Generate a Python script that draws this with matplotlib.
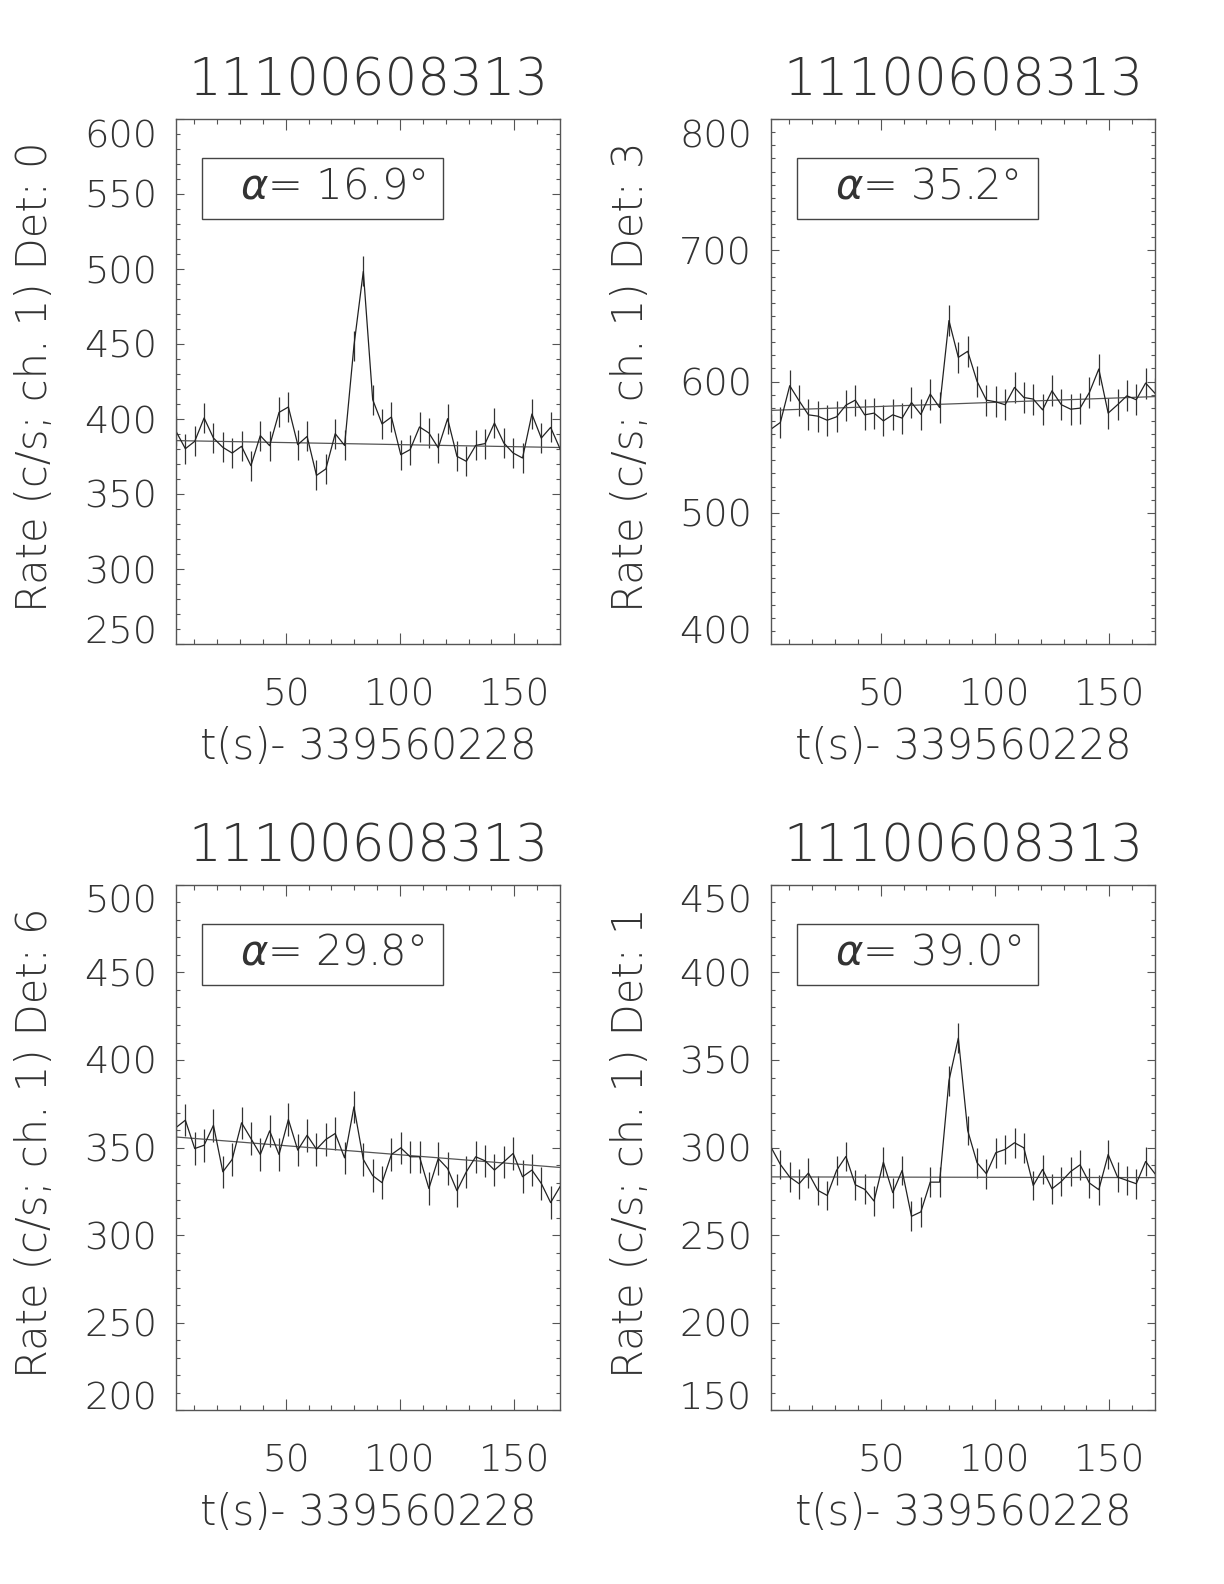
import matplotlib
matplotlib.use("Agg")
import matplotlib.pyplot as plt
from matplotlib.patches import Rectangle
from matplotlib.ticker import MultipleLocator

# ---------------- data ----------------
time_s = [2.048, 6.144, 10.240, 14.336, 18.432, 22.528, 26.624, 30.720, 34.816, 38.912,
          43.008, 47.104, 51.200, 55.296, 59.392, 63.488, 67.584, 71.680, 75.776, 79.872,
          83.968, 88.064, 92.160, 96.256, 100.352, 104.448, 108.544, 112.640, 116.736, 120.832,
          124.928, 129.024, 133.120, 137.216, 141.312, 145.408, 149.504, 153.600, 157.696, 161.792,
          165.888, 169.984]

rate_det0 = [391.8, 380.2, 385.1, 400.7, 387.3, 381.1, 377.3, 381.8, 368.9, 388.9,
             382.2, 404.4, 408.0, 382.9, 388.4, 362.4, 366.7, 390.2, 382.4, 448.9,
             498.4, 412.9, 396.7, 401.3, 376.2, 379.6, 394.7, 390.7, 380.7, 400.2,
             375.1, 371.8, 382.4, 383.6, 397.3, 384.0, 377.3, 374.0, 403.3, 387.3,
             394.4, 380.2]
rate_det3 = [563.7, 568.8, 596.8, 585.3, 574.6, 573.6, 570.5, 573.1, 582.0, 585.8,
             574.6, 575.9, 570.0, 574.6, 572.1, 584.0, 574.9, 590.4, 580.2, 646.4,
             618.4, 623.0, 600.1, 585.8, 584.5, 582.3, 595.5, 587.8, 586.6, 578.4,
             592.9, 582.3, 578.9, 579.7, 591.7, 609.5, 575.9, 582.3, 589.1, 586.1,
             598.8, 591.0]
rate_det6 = [361.4, 365.6, 349.4, 351.3, 362.7, 336.1, 343.2, 364.1, 355.1, 346.0,
             359.5, 346.0, 366.0, 348.5, 357.0, 349.0, 354.6, 358.0, 344.1, 373.2,
             343.2, 333.9, 329.9, 346.0, 349.8, 344.7, 344.7, 326.6, 343.7, 338.0,
             325.3, 336.1, 344.7, 342.4, 337.1, 341.8, 346.6, 333.3, 337.1, 329.5,
             318.5, 327.6]
rate_det1 = [300.2, 290.3, 283.1, 279.3, 285.4, 275.5, 272.6, 286.9, 294.9, 278.7,
             276.1, 269.4, 291.6, 274.2, 286.9, 260.7, 263.2, 280.2, 280.2, 338.2,
             362.5, 309.7, 291.3, 285.0, 297.0, 298.9, 302.7, 299.8, 278.3, 287.5,
             276.4, 280.6, 286.3, 290.1, 279.7, 275.9, 296.0, 283.1, 281.2, 279.3,
             292.0, 285.0]

err_det0 = 10.0
err_det3 = 11.8
err_det6 = 9.3
err_det1 = 8.5

fit_det0 = [385.6, 381.0]   # background fit at first / last time bin
fit_det3 = [578.0, 588.5]
fit_det6 = [356.0, 338.6]
fit_det1 = [283.2, 282.8]

detectors = ["0", "3", "6", "1"]
alpha_deg = ["16.9", "35.2", "29.8", "39.0"]
ylims = [(250, 600), (400, 800), (200, 500), (150, 450)]
ymajor = [50, 100, 50, 50]
title_text = "11100608313"
xlabel_text = "t(s)- 339560228"
xticks = [50, 100, 150]

rates = [rate_det0, rate_det3, rate_det6, rate_det1]
errs = [err_det0, err_det3, err_det6, err_det1]
fits = [fit_det0, fit_det3, fit_det6, fit_det1]

# ---------------- figure ----------------
plt.rcParams["font.family"] = ["DejaVu Sans"]
plt.rcParams["font.weight"] = 200
plt.rcParams["axes.titleweight"] = 200
plt.rcParams["axes.labelweight"] = 200
plt.rcParams["mathtext.fontset"] = "dejavusans"

W, H = 1224, 1584
fig = plt.figure(figsize=(W / 100, H / 100), dpi=100)

ax_w, ax_h = 384, 525
lefts = [176, 771, 176, 771]
tops = [119, 119, 885, 885]

line_col = "#222222"
axis_col = "#555555"
text_col = "#333333"

for k in range(4):
    ax = fig.add_axes([lefts[k] / W, 1 - (tops[k] + ax_h) / H, ax_w / W, ax_h / H])
    t = time_s
    y = rates[k]
    ax.errorbar(t, y, yerr=errs[k], fmt="-", color=line_col, lw=0.9,
                elinewidth=0.9, ecolor="#333333", capsize=0)
    ax.plot([t[0], t[-1]], fits[k], color="#555555", lw=0.9)

    ax.set_xlim(t[0], t[-1])
    ax.set_ylim(*ylims[k])
    ax.set_xticks(xticks)
    ax.xaxis.set_minor_locator(MultipleLocator(10))
    lo, hi = ylims[k]
    ax.set_yticks(list(range(lo, hi + 1, ymajor[k])))
    ax.yaxis.set_minor_locator(MultipleLocator(10))

    for s in ax.spines.values():
        s.set_color(axis_col)
        s.set_linewidth(1.0)

    ax.tick_params(axis="both", which="both", direction="in", top=True, right=True,
                   color=axis_col, width=0.8, labelcolor=text_col)
    ax.tick_params(axis="x", which="major", length=7.6, pad=24, labelsize=27)
    ax.tick_params(axis="x", which="minor", length=3.6)
    ax.tick_params(axis="y", which="major", length=5.6, pad=13.5, labelsize=27.5)
    ax.tick_params(axis="y", which="minor", length=2.8)

    yt = ax.yaxis.get_major_ticks()
    yt[0].label1.set_verticalalignment("baseline")
    yt[-1].label1.set_verticalalignment("top")

    ax.set_title(title_text, fontsize=37, pad=17, color=text_col, fontweight=200)

    ax.set_xlabel(xlabel_text, fontsize=30, color=text_col, fontweight=200)
    ax.xaxis.label.set_va("center")
    ax.xaxis.set_label_coords(0.5, -103 / ax_h)

    ax.set_ylabel("Rate (c/s; ch. 1) Det: " + detectors[k], fontsize=30, color=text_col,
                  fontweight=200)
    ax.yaxis.label.set_va("center")
    ax.yaxis.set_label_coords(-(141) / ax_w, 0.51)

    ax.add_patch(Rectangle((0.067, 0.81), 0.629, 0.116, transform=ax.transAxes,
                           fill=False, edgecolor="#444444", lw=1.0))
    ax.text(0.167, 0.872, r"$\alpha$= " + alpha_deg[k] + "°", transform=ax.transAxes,
            fontsize=30, ha="left", va="center", color=text_col, fontweight=200)

fig.savefig("out.png", dpi=100)
